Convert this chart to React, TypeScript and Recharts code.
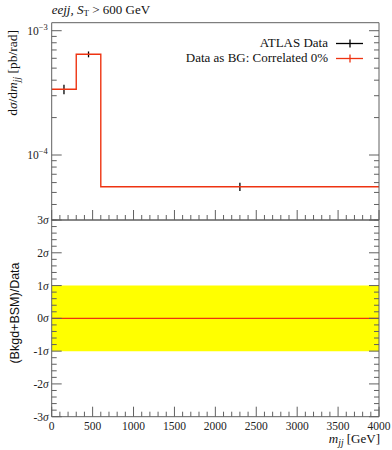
import React from 'react';
import { ComposedChart, Line, Scatter, ErrorBar, XAxis, YAxis, Area, Legend } from 'recharts';

// ---- data ----
const binEdges = [0, 300, 600, 4000];
const bgValues = [3.38e-4, 6.46e-4, 5.56e-5];
const dataX = [150, 450, 2300];
const dataY = [3.38e-4, 6.46e-4, 5.56e-5];
const dataErr = [0.3e-4, 0.35e-4, 0.42e-5];
const ratioValues = [0, 0, 0];
const bandLow = [-1, -1];
const bandHigh = [1, 1];
const bandX = [0, 4000];

const xMajorTicks = [0, 500, 1000, 1500, 2000, 2500, 3000, 3500, 4000];
const xMinorStep = 100;
const logTicks = [
  1e-3, 9e-4, 8e-4, 7e-4, 6e-4, 5e-4, 4e-4, 3e-4, 2e-4,
  1e-4, 9e-5, 8e-5, 7e-5, 6e-5, 5e-5, 4e-5, 3e-5,
];
const logMajor = [1e-3, 1e-4];
const logLabels = ['−3', '−4'];
const sigmaMajor = [-3, -2, -1, 0, 1, 2, 3];
const sigmaLabels = ['-3', '-2', '-1', '0', '1', '2', '3'];

const legendNames = ['ATLAS Data', 'Data as BG: Correlated 0%'];
const legendColors = ['#000000', '#EE3311'];

// ---- derived tables ----
const xAllTicks: number[] = [];
for (let v = 0; v <= 4000; v += xMinorStep) xAllTicks.push(v);
const sigmaTicks: number[] = [];
for (let i = 0; i <= 30; i++) sigmaTicks.push(Math.round((-3 + i * 0.2) * 10) / 10);

const stepData = binEdges.map((x, i) => ({ x, y: bgValues[Math.min(i, bgValues.length - 1)] }));
const pointData = dataX.map((x, i) => ({ x, y: dataY[i], err: dataErr[i] }));
const ratioData = binEdges.map((x, i) => ({ x, r: ratioValues[Math.min(i, ratioValues.length - 1)] }));
const bandData = bandX.map((x, i) => ({ x, band: [bandLow[i], bandHigh[i]] }));

const RED = '#EE3311';
const AX = '#606060';
const SERIF = '"Liberation Serif", "DejaVu Serif", serif';
const SANS = '"Liberation Sans", Arial, sans-serif';

const isMajorX = (v: number) => xMajorTicks.indexOf(v) >= 0;

const XTickDown = (props: any) => {
  const { x, y, payload } = props;
  const len = isMajorX(payload.value) ? 10 : 5;
  return <line x1={x} x2={x} y1={y} y2={y + len} stroke={AX} strokeWidth={1} />;
};
const XTickUp = (props: any) => {
  const { x, y, payload } = props;
  const len = isMajorX(payload.value) ? 10 : 5;
  return <line x1={x} x2={x} y1={y} y2={y - len} stroke={AX} strokeWidth={1} />;
};
const XTickUpLabel = (props: any) => {
  const { x, y, payload } = props;
  const major = isMajorX(payload.value);
  const len = major ? 10 : 5;
  return (
    <g>
      <line x1={x} x2={x} y1={y} y2={y - len} stroke={AX} strokeWidth={1} />
      {major && (
        <text x={x} y={y + 13} textAnchor="middle" fontFamily={SERIF} fontSize={11.5} fill="#222">
          {String(payload.value)}
        </text>
      )}
    </g>
  );
};

const isLogMajor = (v: number) => logMajor.some((m) => Math.abs(m - v) / m < 1e-6);
const LogTickLeft = (props: any) => {
  const { x, y, payload } = props;
  const idx = logMajor.findIndex((m) => Math.abs(m - payload.value) / m < 1e-6);
  const len = idx >= 0 ? 10 : 5;
  return (
    <g>
      <line x1={x} x2={x + len} y1={y} y2={y} stroke={AX} strokeWidth={1} />
      {idx >= 0 && (
        <text x={x - 4} y={y + 4} textAnchor="end" fontFamily={SERIF} fontSize={11.5} fill="#222">
          10<tspan dy={-5} fontSize={8.5}>{logLabels[idx]}</tspan>
        </text>
      )}
    </g>
  );
};
const LogTickRight = (props: any) => {
  const { x, y, payload } = props;
  const len = isLogMajor(payload.value) ? 10 : 5;
  return <line x1={x} x2={x - len} y1={y} y2={y} stroke={AX} strokeWidth={1} />;
};

const SigTickLeft = (props: any) => {
  const { x, y, payload } = props;
  const idx = sigmaMajor.indexOf(payload.value);
  const len = idx >= 0 ? 10 : 5;
  return (
    <g>
      <line x1={x} x2={x + len} y1={y} y2={y} stroke={AX} strokeWidth={1} />
      {idx >= 0 && (
        <text x={x - 3} y={y + 4} textAnchor="end" fontFamily={SERIF} fontSize={11.5} fill="#222">
          {sigmaLabels[idx]}
          <tspan fontStyle="italic">σ</tspan>
        </text>
      )}
    </g>
  );
};
const SigTickRight = (props: any) => {
  const { x, y, payload } = props;
  const len = sigmaMajor.indexOf(payload.value) >= 0 ? 10 : 5;
  return <line x1={x} x2={x - len} y1={y} y2={y} stroke={AX} strokeWidth={1} />;
};

const LegendContent = () => (
  <div style={{ fontFamily: SERIF, fontSize: 13, color: '#111' }}>
    {legendNames.map((n, i) => (
      <div key={n} style={{ display: 'flex', alignItems: 'center', justifyContent: 'flex-end', height: 15 }}>
        <span style={{ marginRight: 8, whiteSpace: 'nowrap' }}>{n}</span>
        <svg width={27} height={15} style={{ display: 'block' }}>
          <line x1={0} x2={27} y1={7.5} y2={7.5} stroke={legendColors[i]} strokeWidth={1.3} />
          <line x1={14} x2={14} y1={3.5} y2={11.5} stroke={legendColors[i]} strokeWidth={1.3} />
        </svg>
      </div>
    ))}
  </div>
);

export default function App() {
  return (
    <div style={{ position: 'absolute', left: 0, top: 0, width: 392, height: 450, background: '#fff', overflow: 'hidden' }}>
      <div style={{ position: 'absolute', left: 0, top: 0 }}>
        <ComposedChart
          width={392}
          height={225}
          margin={{ top: 17.7, right: 8, bottom: 0, left: 11.7 }}
        >
          <XAxis
            dataKey="x"
            type="number"
            domain={[0, 4000]}
            ticks={xAllTicks}
            interval={0}
            height={5}
            tickSize={0}
            tickMargin={0}
            tick={<XTickUp />}
            axisLine={{ stroke: AX }}
            allowDataOverflow
          />
          <XAxis
            xAxisId="top"
            orientation="top"
            type="number"
            domain={[0, 4000]}
            ticks={xAllTicks}
            interval={0}
            height={5}
            tickSize={0}
            tickMargin={0}
            tick={<XTickDown />}
            axisLine={{ stroke: AX }}
            allowDataOverflow
          />
          <YAxis
            type="number"
            scale="log"
            domain={[3.0e-5, 1.16e-3]}
            ticks={logTicks}
            interval={0}
            width={40}
            tickSize={0}
            tickMargin={0}
            tick={<LogTickLeft />}
            axisLine={{ stroke: AX }}
            allowDataOverflow
          />
          <YAxis
            yAxisId="right"
            orientation="right"
            type="number"
            scale="log"
            domain={[3.0e-5, 1.16e-3]}
            ticks={logTicks}
            interval={0}
            width={5}
            tickSize={0}
            tickMargin={0}
            tick={<LogTickRight />}
            axisLine={{ stroke: AX }}
            allowDataOverflow
          />
          <Scatter
            name={legendNames[0]}
            data={pointData}
            dataKey="y"
            fill="#000"
            shape={() => <g />}
            isAnimationActive={false}
          >
            <ErrorBar dataKey="err" direction="y" width={0} stroke="#000" strokeWidth={1.3} />
          </Scatter>
          <Line
            name={legendNames[1]}
            data={stepData}
            dataKey="y"
            type="stepAfter"
            stroke={RED}
            strokeWidth={1.4}
            dot={false}
            activeDot={false}
            isAnimationActive={false}
          />
          <Legend
            layout="horizontal"
            align="center"
            verticalAlign="middle"
            wrapperStyle={{ top: 35.5, right: 29, left: 'auto', width: 'auto' }}
            content={<LegendContent />}
          />
        </ComposedChart>
      </div>

      <div style={{ position: 'absolute', left: 0, top: 200 }}>
        <ComposedChart
          width={392}
          height={250}
          margin={{ top: 15, right: 8, bottom: 13.3, left: 11.7 }}
        >
          <XAxis
            dataKey="x"
            type="number"
            domain={[0, 4000]}
            ticks={xAllTicks}
            interval={0}
            height={20}
            tickSize={0}
            tickMargin={0}
            tick={<XTickUpLabel />}
            axisLine={{ stroke: AX }}
            allowDataOverflow
          />
          <XAxis
            xAxisId="top"
            orientation="top"
            type="number"
            domain={[0, 4000]}
            ticks={xAllTicks}
            interval={0}
            height={5}
            tickSize={0}
            tickMargin={0}
            tick={<XTickDown />}
            axisLine={{ stroke: AX }}
            allowDataOverflow
          />
          <YAxis
            type="number"
            domain={[-3, 3]}
            ticks={sigmaTicks}
            interval={0}
            width={40}
            tickSize={0}
            tickMargin={0}
            tick={<SigTickLeft />}
            axisLine={{ stroke: AX }}
            allowDataOverflow
          />
          <YAxis
            yAxisId="right"
            orientation="right"
            type="number"
            domain={[-3, 3]}
            ticks={sigmaTicks}
            interval={0}
            width={5}
            tickSize={0}
            tickMargin={0}
            tick={<SigTickRight />}
            axisLine={{ stroke: AX }}
            allowDataOverflow
          />
          <Area
            data={bandData}
            dataKey="band"
            type="linear"
            fill="#FFFF00"
            fillOpacity={1}
            stroke="none"
            isAnimationActive={false}
          />
          <Line
            data={ratioData}
            dataKey="r"
            type="stepAfter"
            stroke={RED}
            strokeWidth={1.4}
            dot={false}
            activeDot={false}
            isAnimationActive={false}
          />
        </ComposedChart>
      </div>

      <svg width={392} height={450} style={{ position: 'absolute', left: 0, top: 0, pointerEvents: 'none' }}>
        <text x={51.7} y={13.5} fontFamily={SERIF} fontSize={13} fontStyle="italic" fill="#111">
          eejj, S<tspan fontSize={9} dy={2.5} fontStyle="normal">T</tspan>
          <tspan dy={-2.5} fontStyle="normal"> &gt; 600 GeV</tspan>
        </text>
        <text
          transform="translate(16.5,30) rotate(-90)"
          textAnchor="end"
          fontFamily={SERIF}
          fontSize={13.5}
          fill="#111"
        >
          d<tspan fontStyle="italic">σ</tspan>/d<tspan fontStyle="italic">m</tspan>
          <tspan fontStyle="italic" fontSize={9.5} dy={3}>jj</tspan>
          <tspan dy={-3}> [pb/rad]</tspan>
        </text>
        <text
          transform="translate(18.5,313) rotate(-90)"
          textAnchor="middle"
          fontFamily={SANS}
          fontSize={12.5}
          fill="#111"
        >
          (Bkgd+BSM)/Data
        </text>
        <text x={380} y={443} textAnchor="end" fontFamily={SERIF} fontSize={13} fill="#111">
          <tspan fontStyle="italic">m</tspan>
          <tspan fontStyle="italic" fontSize={9.5} dy={3}>jj</tspan>
          <tspan dy={-3}> [GeV]</tspan>
        </text>
      </svg>
    </div>
  );
}
